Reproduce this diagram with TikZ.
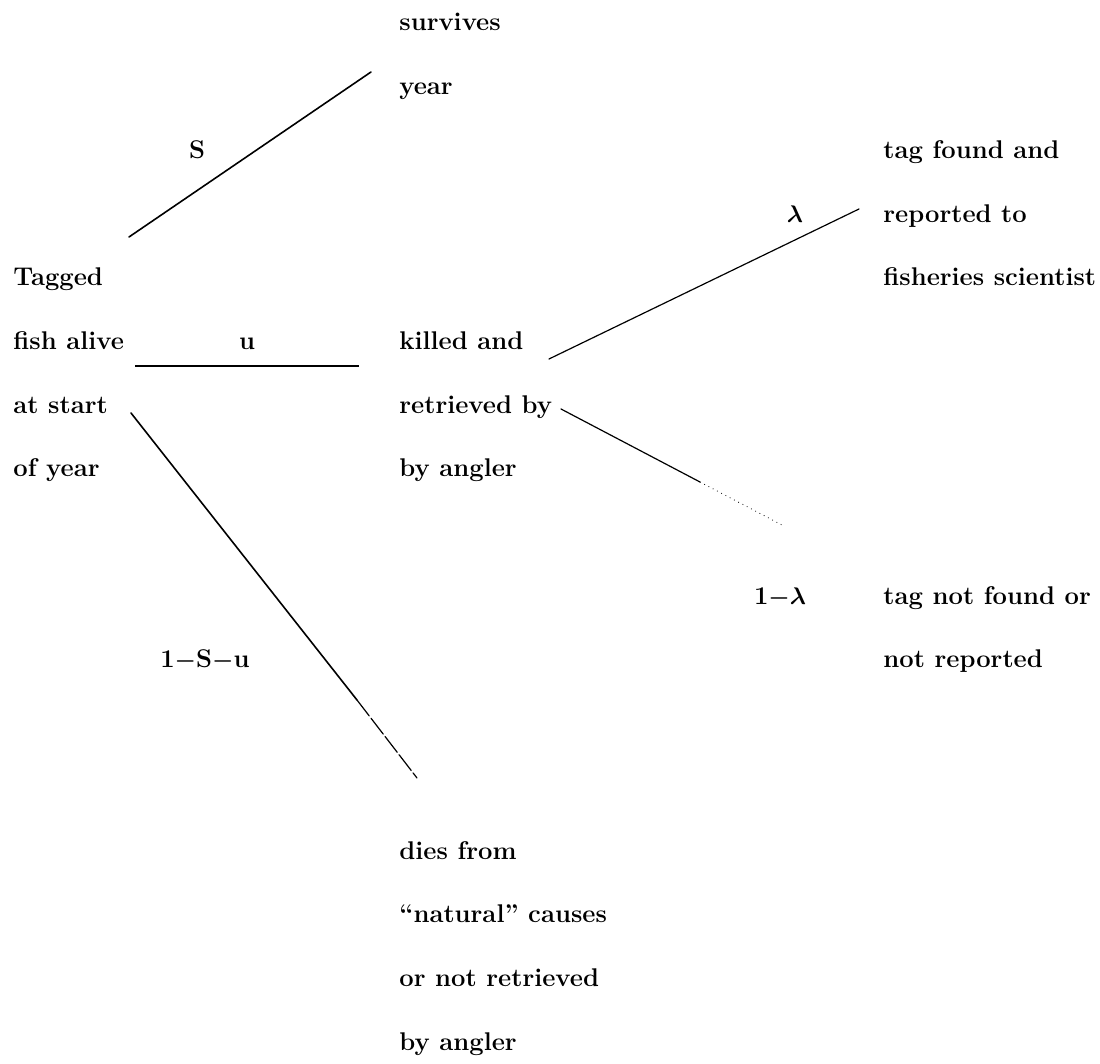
\documentclass[tikz,border=0pt]{standalone}
\usepackage{amsmath}
\usepackage{bm}
\newcommand{\bminus}{\ensuremath{\bm{-}}}
\newcommand{\blam}{\ensuremath{\bm{\lambda}}}
\newcommand{\rowy}[1]{{31+63.7*#1}}
\begin{document}
\begin{tikzpicture}[x=0.5pt,y=-0.5pt,
  txt/.style={anchor=base west,inner sep=0pt,font=\fontsize{12.8}{15}\selectfont\bfseries},
  lbl/.style={anchor=base,inner sep=0pt,font=\fontsize{12.8}{15}\selectfont\bfseries},
  branch/.style={line width=0.8pt,line cap=round},
  faint/.style={line width=0.6pt,line cap=round}]
\useasboundingbox (0,0) rectangle (1100,1064);
% left column
\node[txt] (t1) at (13,\rowy{4}) {Tagged};
\node[txt] (t2) at (13,\rowy{5}) {fish alive};
\node[txt] (t3) at (13,\rowy{6}) {at start};
\node[txt] (t4) at (13,\rowy{7}) {of year};
% middle column
\node[txt] (s1) at (399,\rowy{0}) {survives};
\node[txt] (s2) at (399,\rowy{1}) {year};
\node[txt] (k1) at (399,\rowy{5}) {killed and};
\node[txt] (k2) at (399,\rowy{6}) {retrieved by};
\node[txt] (k3) at (399,\rowy{7}) {by angler};
\node[txt] (d1) at (399,\rowy{13}) {dies from};
\node[txt] (d2) at (399,\rowy{14}) {``natural'' causes};
\node[txt] (d3) at (399,\rowy{15}) {or not retrieved};
\node[txt] (d4) at (399,\rowy{16}) {by angler};
% right column
\node[txt] (r1) at (883,\rowy{2}) {tag found and};
\node[txt] (r2) at (883,\rowy{3}) {reported to};
\node[txt] (r3) at (883,\rowy{4}) {fisheries scientist};
\node[txt] (n1) at (883,\rowy{9}) {tag not found or};
\node[txt] (n2) at (883,\rowy{10}) {not reported};
% branch labels
\node[lbl] (lS) at (197,\rowy{2}) {S};
\node[lbl] (lu) at (247,\rowy{5}) {u};
\node[lbl] (lsu) at (205,\rowy{10}) {1\bminus S\bminus u};
\node[lbl] (llam) at (795,\rowy{3}) {\blam};
\node[lbl] (lnl) at (780,\rowy{9}) {1\bminus\blam};
% connector end points
\coordinate (aS) at (129,237);
\coordinate (bS) at (371,72);
\coordinate (au) at (135,366);
\coordinate (bu) at (359,366);
\coordinate (ad) at (131,413);
\coordinate (md) at (357,700);
\coordinate (bd) at (417,778);
\coordinate (al) at (549,359);
\coordinate (bl) at (859,209);
\coordinate (an) at (561,409);
\coordinate (mn) at (700,482);
\coordinate (bn) at (782,525);
% connectors
\draw[branch] (aS) -- (bS);
\draw[line width=1.1pt] (au) -- (bu);
\draw[branch] (ad) -- (md);
\draw[faint,dash pattern=on 10pt off 1.5pt] (md) -- (bd);
\draw[faint] (al) -- (bl);
\draw[faint] (an) -- (mn);
\draw[line width=0.4pt,dotted] (mn) -- (bn);
\end{tikzpicture}
\end{document}
